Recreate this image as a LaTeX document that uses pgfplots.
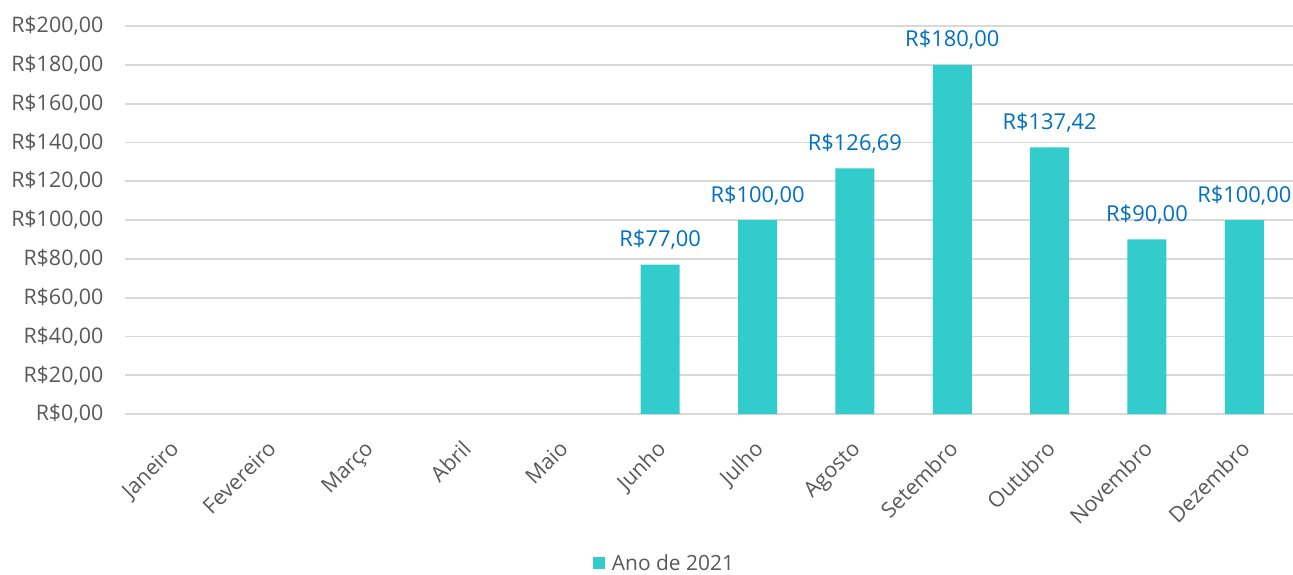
\documentclass[border=0pt]{standalone}
\usepackage{fontspec}
\setmainfont{Open Sans}
\usepackage{pgfplots}
\pgfplotsset{compat=1.18}
\definecolor{barteal}{RGB}{51,204,204}
\definecolor{lblblue}{RGB}{0,112,192}
\definecolor{txtgray}{RGB}{89,89,89}
\definecolor{gridgray}{RGB}{217,217,217}

\begin{document}
\begin{tikzpicture}
\begin{axis}[
    scale only axis,
    width=1168bp, height=388bp,
    xmin=-0.5, xmax=11.5,
    ymin=0, ymax=200,
    ytick={0,20,40,60,80,100,120,140,160,180,200},
    xtick={0,...,11},
    xticklabels={Janeiro,Fevereiro,Março,Abril,Maio,Junho,Julho,Agosto,Setembro,Outubro,Novembro,Dezembro},
    axis line style={draw=none},
    major tick length=0pt,
    ymajorgrids=true,
    grid style={gridgray, line width=1.8bp},
    clip=false,
    /pgf/number format/assume math mode=true,
    tick label style={font=\fontsize{21.5}{25}\selectfont, text=txtgray},
    yticklabel={R\$\pgfmathprintnumber[fixed,fixed zerofill,precision=2,use comma,1000 sep={}]{\tick}},
    yticklabel style={xshift=-18bp},
    xticklabel style={rotate=45, anchor=north east, yshift=-11bp, xshift=-17.5bp},
    legend style={draw=none, at={(0.462,-0.384)}, anchor=center,
        font=\fontsize{21}{25}\selectfont, text=txtgray},
    legend image code/.code={\path (0bp,0bp) -- (17bp,0bp); \fill[barteal] (0bp,-6bp) rectangle (12bp,6bp);},
]
\addplot[ybar, bar width=39bp, fill=barteal, draw=none,
    nodes near coords={R\$\pgfmathprintnumber[fixed,fixed zerofill,precision=2,use comma,1000 sep={}]{\pgfplotspointmeta}},
    every node near coord/.append style={font=\fontsize{22}{26}\selectfont, text=lblblue, anchor=base, yshift=18bp},
] coordinates {(5,77) (6,100) (7,126.69) (8,180) (9,137.42) (10,90) (11,100)};
\addlegendentry{Ano de 2021}
\end{axis}
\pgfresetboundingbox
\path[use as bounding box] ([xshift=-124.75bp,yshift=-160bp]current axis.south west) rectangle ([yshift=26bp]current axis.north east);
\end{tikzpicture}
\end{document}
